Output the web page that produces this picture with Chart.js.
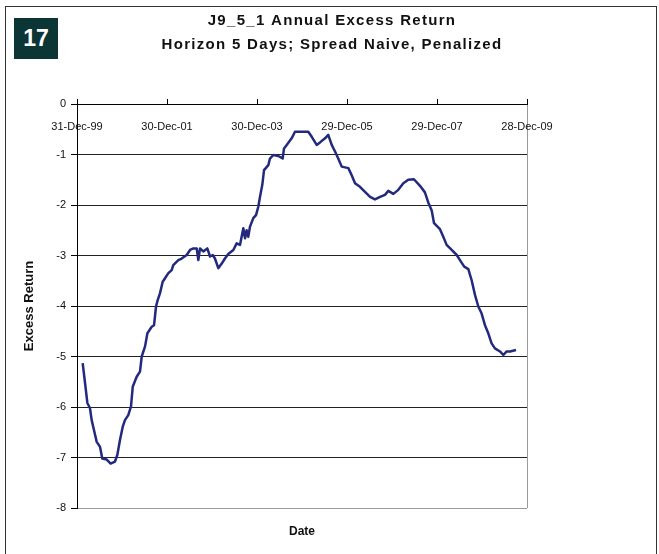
<!DOCTYPE html>
<html>
<head>
<meta charset="utf-8">
<script src="https://cdn.jsdelivr.net/npm/chart.js@4.4.0/dist/chart.umd.min.js"></script>
<style>
  html, body { margin: 0; padding: 0; background: #fff; }
  #wrap { position: relative; width: 659px; height: 554px; overflow: hidden; }
  #frame { position: absolute; left: 5px; top: 6px; width: 652px; height: 570px; border: 1px solid #333; box-sizing: border-box; }
  #badge { position: absolute; left: 14px; top: 18px; width: 44px; height: 41px; background: #0c3636; color: #fff;
           font: bold 23px "Liberation Sans", Arial, sans-serif; display: flex; align-items: center; justify-content: center; }
  canvas { position: absolute; left: 0; top: 0; }
</style>
</head>
<body>
<div id="wrap">
  <div id="frame"></div>
  <div id="badge">17</div>
  <canvas id="c" width="659" height="554"></canvas>
</div>
<script>
// ---- data ----
const badgeLabel = '17';
const titleLines = ['J9_5_1 Annual Excess Return', 'Horizon 5 Days; Spread Naive, Penalized'];
const xAxisTitle = 'Date';
const yAxisTitle = 'Excess Return';
const xTickLabels = ['31-Dec-99', '30-Dec-01', '30-Dec-03', '29-Dec-05', '29-Dec-07', '28-Dec-09'];
const xTickDays = [0, 730, 1460, 2190, 2920, 3650];          // days after 31-Dec-1999
const yTickValues = [0, -1, -2, -3, -4, -5, -6, -7, -8];
// days after 31-Dec-1999
const daysSinceStart = [
  46, 65, 84, 105, 119, 138, 160, 187, 205, 241, 273, 308, 327, 349, 371, 389, 416, 438, 452, 484,
  511, 525, 552, 571, 606, 625, 641, 655, 673, 695, 714, 741, 768, 781, 822, 849, 890, 917, 944, 971,
  984, 998, 1024, 1057, 1079, 1101, 1119, 1146, 1174, 1200, 1227, 1268, 1295, 1322, 1349, 1363, 1376, 1389, 1403, 1430,
  1452, 1471, 1484, 1503, 1517, 1552, 1565, 1592, 1633, 1668, 1679, 1701, 1741, 1768, 1876, 1904, 1944, 1971, 2012, 2038,
  2066, 2093, 2119, 2147, 2201, 2228, 2255, 2295, 2336, 2377, 2417, 2458, 2498, 2525, 2566, 2606, 2647, 2687, 2733, 2782,
  2822, 2849, 2877, 2896, 2944, 2971, 2998, 3039, 3080, 3114, 3141, 3174, 3201, 3228, 3255, 3282, 3309, 3336, 3363, 3390,
  3431, 3458, 3485, 3512, 3561
];
const excessReturn = [
  -5.13, -5.52, -5.92, -6.02, -6.26, -6.46, -6.69, -6.79, -7.02, -7.04, -7.12, -7.08, -6.95, -6.65, -6.39, -6.26, -6.16, -5.99, -5.60, -5.40,
  -5.30, -5.00, -4.80, -4.54, -4.41, -4.38, -4.01, -3.88, -3.75, -3.52, -3.45, -3.35, -3.29, -3.19, -3.09, -3.06, -2.99, -2.89, -2.86, -2.86,
  -3.09, -2.86, -2.92, -2.86, -3.02, -2.99, -3.06, -3.25, -3.16, -3.06, -2.97, -2.89, -2.76, -2.79, -2.46, -2.66, -2.50, -2.63, -2.43, -2.26,
  -2.20, -2.03, -1.84, -1.60, -1.31, -1.21, -1.08, -1.01, -1.03, -1.08, -0.88, -0.81, -0.68, -0.55, -0.55, -0.65, -0.81, -0.76, -0.68, -0.61,
  -0.81, -0.94, -1.08, -1.24, -1.27, -1.41, -1.57, -1.64, -1.74, -1.84, -1.89, -1.84, -1.80, -1.72, -1.78, -1.70, -1.57, -1.50, -1.49, -1.62,
  -1.75, -1.95, -2.11, -2.36, -2.48, -2.63, -2.79, -2.89, -2.99, -3.12, -3.22, -3.27, -3.49, -3.78, -4.01, -4.15, -4.38, -4.54, -4.74, -4.84,
  -4.90, -4.97, -4.90, -4.90, -4.87
];

document.getElementById('badge').textContent = badgeLabel;

const FONT = '"Liberation Sans", Arial, Helvetica, sans-serif';
const TXT = '#111';

// slightly widened letter spacing of the chart title, as in the reference rendering
const titleSpacing = {
  id: 'titleSpacing',
  beforeDraw(chart) {
    const tb = chart.titleBlock;
    if (tb && !tb._spaced) {
      const orig = tb.draw.bind(tb);
      tb.draw = function () {
        const ctx = chart.ctx;
        ctx.save();
        ctx.letterSpacing = '1.3px';
        orig();
        ctx.restore();
      };
      tb._spaced = true;
    }
  }
};

new Chart(document.getElementById('c'), {
  type: 'line',
  data: {
    datasets: [{
      data: daysSinceStart.map((d, i) => ({ x: d, y: excessReturn[i] })),
      borderColor: '#232a7e',
      borderWidth: 2.5,
      borderJoinStyle: 'round',
      pointRadius: 0,
      tension: 0,
      fill: false
    }]
  },
  plugins: [titleSpacing],
  options: {
    responsive: false,
    animation: false,
    events: [],
    layout: { padding: { left: 5, right: 0, top: 0, bottom: 15.6 } },
    plugins: {
      legend: { display: false },
      tooltip: { enabled: false },
      title: {
        display: true, text: titleLines, color: TXT,
        font: { family: FONT, size: 15, weight: 'bold', lineHeight: '24px' },
        padding: { top: 9, bottom: 9 }
      },
      subtitle: {
        display: true, text: xAxisTitle, position: 'bottom', fullSize: false, color: TXT,
        font: { family: FONT, size: 12, weight: 'bold', lineHeight: 1.2 },
        padding: { top: 16, bottom: 0 }
      }
    },
    scales: {
      x: {
        type: 'linear', position: 'top', min: xTickDays[0], max: xTickDays[xTickDays.length - 1],
        afterBuildTicks: s => { s.ticks = xTickDays.map(v => ({ value: v })); },
        ticks: {
          mirror: true, padding: 16, maxRotation: 0, autoSkip: false, color: TXT,
          font: { family: FONT, size: 11 },
          callback: (v, i) => xTickLabels[i]
        },
        grid: {
          color: c => (c.tick && c.tick.value === xTickDays[xTickDays.length - 1]) ? '#9a9a9a' : 'rgba(0,0,0,0)',
          tickColor: '#000', tickLength: 5, lineWidth: 1
        },
        border: { color: '#000', width: 1 },
        afterFit: s => { s.height = 38; }
      },
      y: {
        type: 'linear', position: 'left', min: -8, max: 0,
        afterBuildTicks: s => { s.ticks = yTickValues.map(v => ({ value: v })); },
        ticks: { padding: 5, color: TXT, font: { family: FONT, size: 11 }, callback: v => String(v) },
        grid: {
          color: c => (c.tick && c.tick.value === -8) ? '#9a9a9a' : '#222',
          tickColor: '#000', tickLength: 6, lineWidth: 1
        },
        border: { color: '#000', width: 1 },
        title: {
          display: true, text: yAxisTitle, color: TXT,
          font: { family: FONT, size: 13, weight: 'bold', lineHeight: 1.2 },
          padding: { top: 17, bottom: 0 }
        },
        afterFit: s => { s.width = 72; }
      },
      yRight: {
        type: 'linear', position: 'right', display: true,
        ticks: { display: false },
        grid: { display: false, drawTicks: false },
        border: { display: false },
        afterFit: s => { s.width = 132; }
      }
    }
  }
});
</script>
</body>
</html>
